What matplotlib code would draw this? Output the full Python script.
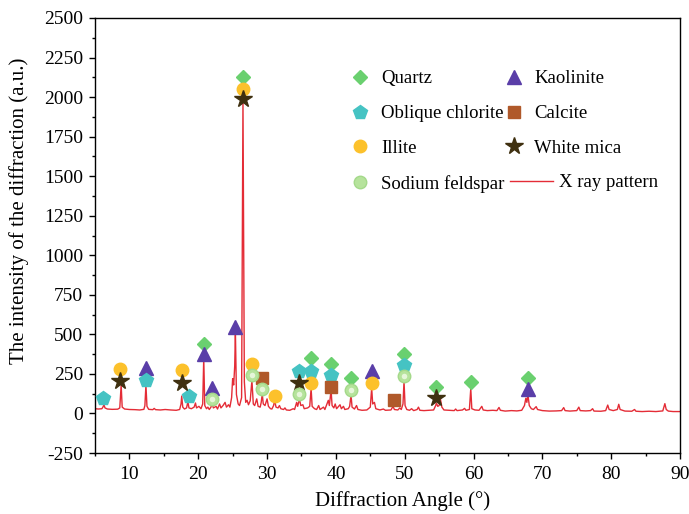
import matplotlib
matplotlib.use("Agg")
import matplotlib.pyplot as plt
from matplotlib.ticker import MultipleLocator

# XRD pattern: (angle, intensity)
pattern = [
    (5.0, 30), (5.5, 28), (6.0, 30), (6.15, 40), (6.3, 55), (6.45, 35), (6.8, 28),
    (7.5, 26), (8.3, 27), (8.6, 35), (8.8, 180), (8.95, 40), (9.3, 28), (10.0, 25),
    (10.8, 24), (11.5, 22), (12.1, 26), (12.25, 50), (12.4, 180), (12.55, 45),
    (12.8, 26), (13.4, 24), (13.6, 32), (13.8, 24), (14.5, 22), (15.2, 25),
    (16.0, 22), (16.8, 20), (17.3, 25), (17.5, 60), (17.6, 110), (17.75, 40),
    (18.0, 28), (18.3, 35), (18.5, 75), (18.65, 35), (19.0, 30), (19.4, 40),
    (19.6, 66), (19.75, 35), (20.1, 45), (20.4, 30), (20.65, 60), (20.8, 350),
    (20.95, 50), (21.2, 30), (21.4, 40), (21.6, 25), (21.85, 40), (22.0, 64),
    (22.2, 35), (22.6, 45), (22.8, 28), (23.1, 60), (23.3, 35), (23.6, 50),
    (23.9, 70), (24.1, 40), (24.4, 55), (24.6, 40), (24.85, 100), (25.0, 220),
    (25.15, 180), (25.3, 300), (25.4, 520), (25.55, 120), (25.8, 60), (26.0, 50),
    (26.3, 100), (26.5, 1980), (26.7, 200), (26.9, 70), (27.1, 83), (27.3, 55),
    (27.55, 80), (27.8, 210), (28.0, 60), (28.2, 50), (28.5, 92), (28.7, 45),
    (29.0, 40), (29.15, 70), (29.3, 124), (29.45, 60), (29.7, 50), (30.0, 92),
    (30.2, 45), (30.5, 30), (30.7, 28), (30.95, 50), (31.1, 83), (31.3, 40),
    (31.6, 35), (31.8, 50), (32.0, 30), (32.4, 25), (32.6, 35), (32.8, 22),
    (33.3, 20), (33.8, 30), (34.0, 25), (34.3, 70), (34.45, 45), (34.7, 92),
    (34.9, 50), (35.2, 55), (35.4, 30), (35.9, 35), (36.2, 45), (36.4, 160),
    (36.55, 45), (36.9, 30), (37.2, 25), (37.5, 50), (37.7, 25), (38.2, 40),
    (38.4, 25), (38.9, 83), (39.05, 50), (39.3, 147), (39.45, 50), (39.7, 35),
    (39.9, 60), (40.1, 30), (40.6, 55), (40.8, 30), (41.1, 45), (41.3, 25),
    (41.8, 30), (42.0, 45), (42.2, 117), (42.35, 40), (42.7, 28), (43.0, 50),
    (43.2, 25), (43.8, 20), (44.5, 22), (45.0, 40), (45.2, 160), (45.35, 60),
    (45.6, 70), (45.8, 30), (46.4, 22), (46.9, 28), (47.2, 20), (48.0, 22),
    (48.3, 45), (48.5, 25), (49.0, 22), (49.3, 35), (49.5, 25), (49.75, 60),
    (49.9, 205), (50.05, 50), (50.3, 25), (50.7, 20), (51.0, 30), (51.3, 18),
    (51.8, 25), (52.0, 40), (52.2, 20), (52.8, 18), (53.5, 20), (54.2, 22),
    (54.5, 50), (54.6, 66), (54.8, 45), (55.0, 50), (55.2, 88), (55.4, 40),
    (55.7, 22), (56.4, 20), (57.2, 18), (57.4, 28), (57.6, 18), (58.4, 22),
    (58.7, 32), (58.9, 20), (59.4, 25), (59.6, 157), (59.75, 30), (60.2, 22),
    (60.8, 20), (61.2, 45), (61.4, 22), (62.0, 18), (62.8, 20), (63.4, 18),
    (63.7, 38), (63.9, 20), (64.6, 15), (65.5, 18), (66.3, 16), (67.0, 20),
    (67.4, 50), (67.6, 96), (67.75, 70), (67.9, 120), (68.1, 50), (68.4, 30),
    (68.7, 25), (69.1, 43), (69.3, 25), (70.0, 18), (71.0, 15), (72.0, 16),
    (72.8, 18), (73.1, 37), (73.3, 18), (74.0, 15), (75.0, 18), (75.3, 40),
    (75.5, 18), (76.3, 16), (77.0, 18), (77.3, 30), (77.5, 15), (78.5, 14),
    (79.2, 18), (79.5, 53), (79.7, 25), (80.3, 18), (80.9, 25), (81.1, 58),
    (81.3, 25), (82.0, 15), (83.0, 14), (83.4, 25), (83.6, 14), (84.5, 12),
    (85.5, 14), (86.5, 12), (87.5, 16), (87.8, 62), (88.0, 25), (88.3, 15),
    (89.0, 12), (90.0, 12),
]
angle = [p[0] for p in pattern]
intensity = [p[1] for p in pattern]

# phase markers
quartz_x = [20.8, 26.5, 36.4, 39.3, 42.2, 49.9, 54.6, 59.6, 67.9]
quartz_y = [437, 2125, 352, 312, 225, 375, 168, 196, 224]
kaolinite_x = [12.4, 20.8, 22.0, 25.4, 45.2, 67.9]
kaolinite_y = [288, 376, 162, 546, 271, 152]
chlorite_x = [6.2, 12.4, 18.7, 34.7, 36.4, 39.3, 49.9]
chlorite_y = [96, 213, 113, 267, 267, 241, 305]
calcite_x = [29.3, 39.3, 48.4]
calcite_y = [224, 166, 82]
illite_x = [8.7, 17.6, 26.5, 27.8, 31.1, 36.4, 45.2]
illite_y = [278, 272, 2053, 313, 113, 194, 194]
mica_x = [8.7, 17.6, 26.5, 34.7, 54.6]
mica_y = [203, 194, 1987, 194, 96]
feldspar_x = [22.0, 27.8, 29.3, 34.7, 42.2, 49.9]
feldspar_y = [91, 245, 155, 120, 146, 235]

plt.rcParams['font.family'] = ['Liberation Serif', 'DejaVu Serif']
plt.rcParams['axes.unicode_minus'] = False

fig = plt.figure(figsize=(6.89, 5.14), dpi=100)
ax = fig.add_axes([95 / 689, 1 - 453 / 514, (680 - 95) / 689, (453 - 18) / 514])

line, = ax.plot(angle, intensity, color='#e42c36', lw=1.0, label='X ray pattern', zorder=2)

mk = dict(ls='none', zorder=3)
h_q, = ax.plot(quartz_x, quartz_y, marker='D', ms=7.5, color='#6ad06f', mec='#6ad06f', label='Quartz', **mk)
h_k, = ax.plot(kaolinite_x, kaolinite_y, marker='^', ms=10, color='#5a3ea8', mec='#5a3ea8', label='Kaolinite', **mk)
h_c, = ax.plot(chlorite_x, chlorite_y, marker='p', ms=10, color='#45c3c3', mec='#45c3c3', label='Oblique chlorite', **mk)
h_ca, = ax.plot(calcite_x, calcite_y, marker='s', ms=8, color='#b0592a', mec='#b0592a', label='Calcite', **mk)
h_i, = ax.plot(illite_x, illite_y, marker='o', ms=9, color='#fcc12b', mec='#fcc12b', label='Illite', **mk)
h_m, = ax.plot(mica_x, mica_y, marker='*', ms=13, color='#3f3010', mec='#3f3010', label='White mica', **mk)
h_f, = ax.plot(feldspar_x, feldspar_y, marker='o', ms=9, color='#b6e39c', mec='#a4d98a', label='Sodium feldspar', **mk)
ax.plot(feldspar_x, feldspar_y, marker='o', ms=4, color='#e6f6da', mec='none', ls='none', zorder=4)

ax.set_xlim(5, 90)
ax.set_ylim(-250, 2500)
ax.xaxis.set_major_locator(MultipleLocator(10))
ax.xaxis.set_minor_locator(MultipleLocator(5))
ax.yaxis.set_major_locator(MultipleLocator(250))
ax.yaxis.set_minor_locator(MultipleLocator(125))
ax.tick_params(which='both', direction='out', top=False, right=False, labelsize=14, width=1)
ax.tick_params(which='major', length=4.5, pad=4)
ax.tick_params(axis='x', which='major', pad=5)
ax.tick_params(which='minor', length=2.5)
for s in ax.spines.values():
    s.set_linewidth(1.0)

ax.set_xlabel('Diffraction Angle (°)', fontsize=15)
ax.xaxis.set_label_coords(0.526, -0.087)
ax.set_ylabel('The intensity of the diffraction (a.u.)', fontsize=15)
ax.yaxis.set_label_coords(-0.112, 0.556)

leg1 = ax.legend(handles=[h_q, h_c, h_i, h_f, h_k, h_ca, h_m], ncol=2, frameon=False,
                 fontsize=13.5, loc='upper left', bbox_to_anchor=(351 / 689, 1 - 70 / 514),
                 bbox_transform=fig.transFigure, borderpad=0, borderaxespad=0,
                 handlelength=1.0, handletextpad=0.6, labelspacing=0.95, columnspacing=0.0)
ax.add_artist(leg1)
ax.legend(handles=[line], frameon=False, fontsize=13.5, loc='upper left',
          bbox_to_anchor=(510 / 689, 1 - 174 / 514), bbox_transform=fig.transFigure,
          borderpad=0, borderaxespad=0, handlelength=2.3, handletextpad=0.3)

fig.savefig('out.png', dpi=100)
